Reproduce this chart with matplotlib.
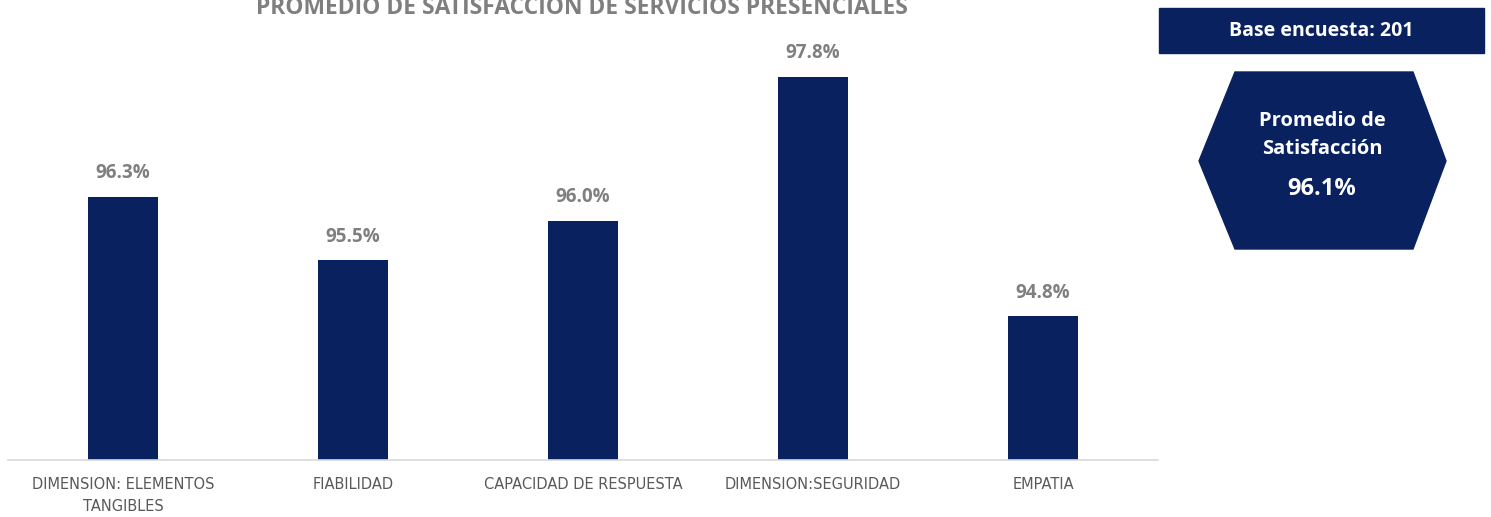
import numpy as np
import matplotlib
matplotlib.use('agg')
import matplotlib.pyplot as plt
from matplotlib.patches import Polygon, Rectangle

# data
categories = ['DIMENSION: ELEMENTOS\nTANGIBLES', 'FIABILIDAD', 'CAPACIDAD DE RESPUESTA',
              'DIMENSION:SEGURIDAD', 'EMPATIA']
values = [96.3, 95.5, 96.0, 97.8, 94.8]
title = 'PROMEDIO DE SATISFACCIÓN DE SERVICIOS PRESENCIALES'
base_text = 'Base encuesta: 201'
avg_label = 'Promedio de\nSatisfacción'
avg_value = 96.1

navy = '#0a215f'
grey = '#7f7f7f'
W, H = 1491, 517

fig = plt.figure(figsize=(W / 100, H / 100), dpi=100)
ax = fig.add_axes([8 / W, (H - 460) / H, 1150 / W, (460 - 21) / H])

x = np.arange(len(values))
ax.bar(x, values, width=0.305, color=navy, bottom=0)
ax.set_ylim(93.0, 98.5)
ax.set_xlim(-0.5, len(values) - 0.5)
for xi, v in zip(x, values):
    ax.text(xi, v + 0.17, f'{v:.1f}%', ha='center', va='bottom',
            fontsize=13.5, fontweight='bold', color=grey, family='Open Sans')

for s in ['top', 'right', 'left']:
    ax.spines[s].set_visible(False)
ax.spines['bottom'].set_color('#d9d9d9')
ax.spines['bottom'].set_linewidth(1.2)
ax.set_yticks([])
ax.set_xticks(x)
ax.set_xticklabels(categories, fontsize=10.5, color='#595959',
                   family=['Liberation Sans Narrow', 'DejaVu Sans'], linespacing=1.6)
ax.tick_params(axis='x', length=0, pad=12)

fig.text(582 / W, 1 - 8 / H, title, ha='center', va='center', fontsize=16.5,
         fontweight='bold', color=grey, family='Open Sans')

# side panel in pixel coordinates
ov = fig.add_axes([0, 0, 1, 1])
ov.set_xlim(0, W)
ov.set_ylim(H, 0)
ov.axis('off')
ov.add_patch(Rectangle((1159, 8), 325, 45, color=navy))
ov.text(1321, 31, base_text, ha='center', va='center', fontsize=14,
        fontweight='bold', color='white', family='Open Sans')
hexagon = [(1235, 72), (1413, 72), (1446, 161), (1413, 249), (1235, 249), (1199, 161)]
ov.add_patch(Polygon(hexagon, closed=True, color=navy))
ov.text(1322, 135, avg_label, ha='center', va='center', fontsize=14.5,
        fontweight='bold', color='white', family='Open Sans', linespacing=1.55)
ov.text(1322, 189, f'{avg_value:.1f}%', ha='center', va='center', fontsize=17,
        fontweight='bold', color='white', family='Open Sans')

fig.savefig('out.png', dpi=100)
